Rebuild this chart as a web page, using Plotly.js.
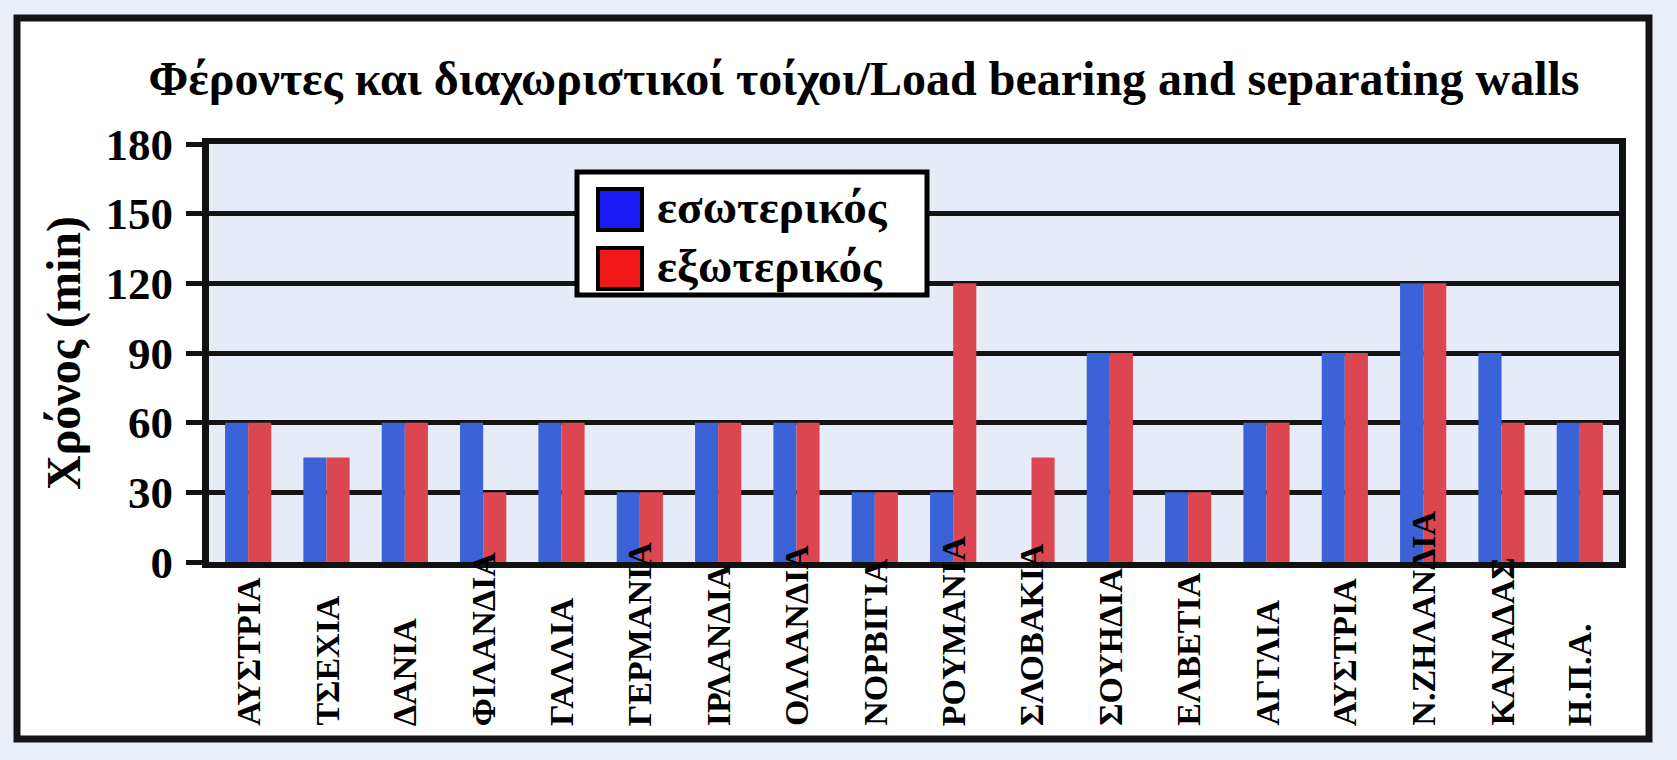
<!DOCTYPE html>
<html>
<head>
<meta charset="utf-8">
<script src="https://cdn.plot.ly/plotly-3.0.1.min.js"></script>
<style>
  html, body { margin: 0; padding: 0; background: #e9eef7; }
  #chart { width: 1677px; height: 760px; }
</style>
</head>
<body>
<div id="chart"></div>
<script>
// ---- data ----
var categories = ["ΑΥΣΤΡΙΑ", "ΤΣΕΧΙΑ", "ΔΑΝΙΑ", "ΦΙΛΑΝΔΙΑ", "ΓΑΛΛΙΑ", "ΓΕΡΜΑΝΙΑ",
                  "ΙΡΛΑΝΔΙΑ", "ΟΛΛΑΝΔΙΑ", "ΝΟΡΒΙΓΙΑ", "ΡΟΥΜΑΝΙΑ", "ΣΛΟΒΑΚΙΑ", "ΣΟΥΗΔΙΑ",
                  "ΕΛΒΕΤΙΑ", "ΑΓΓΛΙΑ", "ΑΥΣΤΡΙΑ", "Ν.ΖΗΛΑΝΔΙΑ", "ΚΑΝΑΔΑΣ", "Η.Π.Α."];
var interiorValues = [60, 45, 60, 60, 60, 30, 60, 60, 30, 30, 0, 90, 30, 60, 90, 120, 90, 60];
var exteriorValues = [60, 45, 60, 30, 60, 30, 60, 60, 30, 120, 45, 90, 30, 60, 90, 120, 60, 60];
var seriesNames = ["εσωτερικός", "εξωτερικός"];
var yTickValues = [0, 30, 60, 90, 120, 150, 180];
var titleText = "Φέροντες και διαχωριστικοί τοίχοι/Load bearing and separating walls";
var yTitleText = "Χρόνος (min)";

// ---- layout geometry (pixels) ----
var W = 1677, H = 760;
var L = 209, R = 1619, T = 144, B = 562;
function px(x) { return (x - L) / (R - L); }
function py(y) { return (B - y) / (B - T); }

var FONT = "'Liberation Serif', 'Times New Roman', serif";
var BLUE = "#3b62d6", RED = "#dc4651";

var xIdx = categories.map(function (_, i) { return i; });

var traces = [
  { type: "bar", name: seriesNames[0], x: xIdx, y: interiorValues,
    marker: { color: BLUE, line: { width: 0 } }, showlegend: false },
  { type: "bar", name: seriesNames[1], x: xIdx, y: exteriorValues,
    marker: { color: RED, line: { width: 0 } }, showlegend: false }
];

var shapes = [
  // outer frame (white inside)
  { type: "rect", xref: "paper", yref: "paper", layer: "below",
    x0: px(17), x1: px(1649), y0: py(18), y1: py(739),
    fillcolor: "#ffffff", line: { color: "#141414", width: 7 } },
  // plot area background
  { type: "rect", xref: "paper", yref: "paper", layer: "below",
    x0: 0, x1: 1, y0: 0, y1: 1,
    fillcolor: "#e5ecf8", line: { width: 0 } },
  // legend box
  { type: "rect", xref: "paper", yref: "paper", layer: "above",
    x0: px(577), x1: px(927), y0: py(172), y1: py(295),
    fillcolor: "#ffffff", line: { color: "#000000", width: 5 } },
  { type: "rect", xref: "paper", yref: "paper", layer: "above",
    x0: px(598), x1: px(642), y0: py(189), y1: py(230),
    fillcolor: "#1a1af5", line: { color: "#000000", width: 4 } },
  { type: "rect", xref: "paper", yref: "paper", layer: "above",
    x0: px(598), x1: px(642), y0: py(248), y1: py(289),
    fillcolor: "#f01818", line: { color: "#000000", width: 4 } }
];

var annotations = categories.map(function (c, i) {
  return { x: i, xref: "x", y: py(728), yref: "paper", text: c, showarrow: false,
           textangle: -90, xanchor: "center", yanchor: "bottom",
           font: { family: FONT, size: 34, color: "#000000", weight: "bold" } };
});
annotations.push(
  { x: px(655), y: py(207), xref: "paper", yref: "paper", text: seriesNames[0], showarrow: false,
    xanchor: "left", yanchor: "middle", font: { family: FONT, size: 47, color: "#000", weight: "bold" } },
  { x: px(655), y: py(266), xref: "paper", yref: "paper", text: seriesNames[1], showarrow: false,
    xanchor: "left", yanchor: "middle", font: { family: FONT, size: 47, color: "#000", weight: "bold" } }
);

var layout = {
  width: W, height: H,
  margin: { l: L, r: W - R, t: T, b: H - B, pad: 0 },
  paper_bgcolor: "#e9eef7",
  plot_bgcolor: "rgba(0,0,0,0)",
  barmode: "group", bargap: 0.41, bargroupgap: 0,
  title: { text: titleText, xref: "container", x: 864 / W, xanchor: "center",
           yref: "container", y: 1 - 78 / H, yanchor: "middle",
           font: { family: FONT, size: 48, color: "#000", weight: "bold" } },
  xaxis: { range: [-0.5, categories.length - 0.5], tickvals: xIdx, showticklabels: false,
           ticks: "", showgrid: false, zeroline: false,
           showline: true, mirror: true, linecolor: "#111", linewidth: 6, fixedrange: true },
  yaxis: { range: [0, 180], tickvals: yTickValues, ticktext: yTickValues.map(String),
           ticks: "outside", ticklen: 16, tickwidth: 5, tickcolor: "#111",
           ticklabelstandoff: 4,
           tickfont: { family: FONT, size: 45, color: "#000", weight: "bold" },
           showgrid: true, gridcolor: "#141414", gridwidth: 5, zeroline: false,
           showline: true, mirror: true, linecolor: "#111", linewidth: 7,
           title: { text: yTitleText, standoff: 12,
                    font: { family: FONT, size: 48, color: "#000", weight: "bold" } },
           fixedrange: true },
  shapes: shapes,
  annotations: annotations
};

Plotly.newPlot("chart", traces, layout, { displayModeBar: false, staticPlot: true });
</script>
</body>
</html>
